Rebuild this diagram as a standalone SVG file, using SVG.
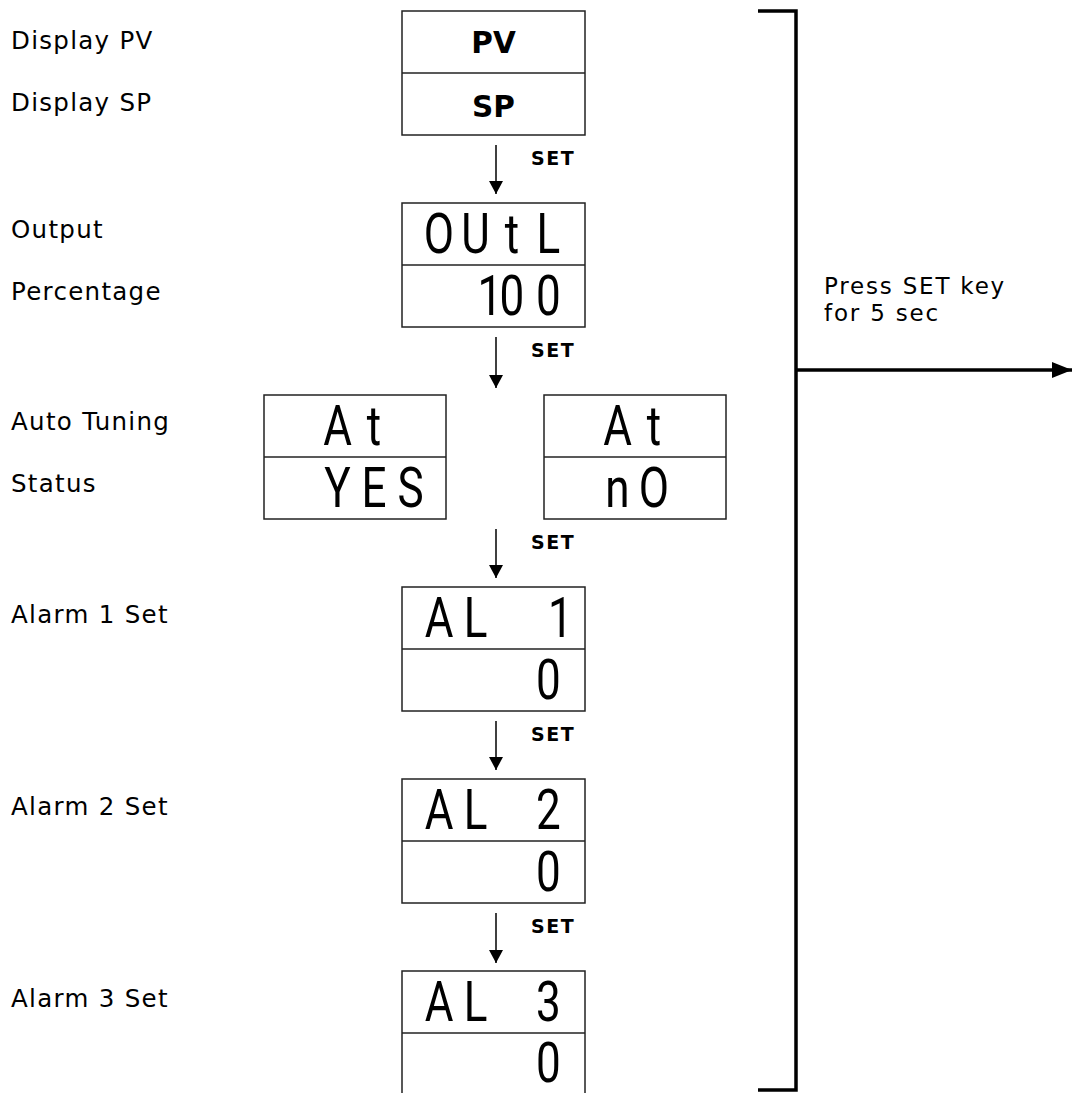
<svg xmlns="http://www.w3.org/2000/svg" width="1072" height="1093" viewBox="0 0 1072 1093">
<defs>
<style>
.lbl{font-family:"DejaVu Sans",Verdana,sans-serif;font-size:24.5px;letter-spacing:1.3px;fill:#000}
.note{font-family:"DejaVu Sans",Verdana,sans-serif;font-size:23px;letter-spacing:1.8px;fill:#000}
.set{font-family:"DejaVu Sans",Verdana,sans-serif;font-size:19px;font-weight:bold;letter-spacing:1.5px;fill:#000}
.big{font-family:"DejaVu Sans",Verdana,sans-serif;font-size:29.5px;font-weight:bold;fill:#000;text-anchor:middle}
.seg{font-family:Roboto,"DejaVu Sans",sans-serif;font-weight:400;font-size:55px;fill:#000;text-anchor:middle}
.box{fill:none;stroke:#222;stroke-width:1.5}
.div{stroke:#222;stroke-width:1.5}
.arr{stroke:#000;stroke-width:1.5;fill:none;marker-end:url(#ah)}
</style>
<marker id="ah" markerUnits="userSpaceOnUse" markerWidth="13" markerHeight="14" refX="13" refY="7" orient="auto">
<path d="M0,0 L13,7 L0,14 z" fill="#000"/>
</marker>
<marker id="bh" markerUnits="userSpaceOnUse" markerWidth="20" markerHeight="16" refX="20" refY="8" orient="auto">
<path d="M0,0 L20,8 L0,16 z" fill="#000"/>
</marker>
</defs>
<rect width="1072" height="1093" fill="#fff"/>

<g id="labels">
<text class="lbl" x="11" y="49">Display PV</text>
<text class="lbl" x="11" y="111">Display SP</text>
<text class="lbl" x="11" y="238">Output</text>
<text class="lbl" x="11" y="300">Percentage</text>
<text class="lbl" x="11" y="430">Auto Tuning</text>
<text class="lbl" x="11" y="492">Status</text>
<text class="lbl" x="11" y="623">Alarm 1 Set</text>
<text class="lbl" x="11" y="815">Alarm 2 Set</text>
<text class="lbl" x="11" y="1007">Alarm 3 Set</text>
</g>

<g id="node-pvsp">
<rect class="box" x="402" y="11" width="183" height="124"/>
<line class="div" x1="402" y1="73" x2="585" y2="73"/>
<text class="big" x="493.5" y="53">PV</text>
<text class="big" x="493.5" y="117">SP</text>
</g>

<g id="node-outl">
<rect class="box" x="402" y="203" width="183" height="124"/>
<line class="div" x1="402" y1="265" x2="585" y2="265"/>
<text class="seg" transform="translate(402 253) scale(0.8 1)" x="46.25 91.9 137.5 183.1">OUtL</text>
<text class="seg" transform="translate(402 315) scale(0.8 1)" x="110 137.5 183.1">100</text>
</g>

<g id="node-at-yes">
<rect class="box" x="264" y="395" width="182" height="124"/>
<line class="div" x1="264" y1="457" x2="446" y2="457"/>
<text class="seg" transform="translate(264 445) scale(0.8 1)" x="91.9 137.5">At</text>
<text class="seg" transform="translate(264 507) scale(0.8 1)" x="91.9 137.5 183.1">YES</text>
</g>

<g id="node-at-no">
<rect class="box" x="544" y="395" width="182" height="124"/>
<line class="div" x1="544" y1="457" x2="726" y2="457"/>
<text class="seg" transform="translate(544 445) scale(0.8 1)" x="91.9 137.5">At</text>
<text class="seg" transform="translate(544 507) scale(0.8 1)" x="91.9 137.5">nO</text>
</g>

<g id="node-al1">
<rect class="box" x="402" y="587" width="183" height="124"/>
<line class="div" x1="402" y1="649" x2="585" y2="649"/>
<text class="seg" transform="translate(402 637) scale(0.8 1)" x="46.25 91.9 137.5 198.1">AL 1</text>
<text class="seg" transform="translate(402 699) scale(0.8 1)" x="183.1">0</text>
</g>

<g id="node-al2">
<rect class="box" x="402" y="779" width="183" height="124"/>
<line class="div" x1="402" y1="841" x2="585" y2="841"/>
<text class="seg" transform="translate(402 829) scale(0.8 1)" x="46.25 91.9 137.5 183.1">AL 2</text>
<text class="seg" transform="translate(402 891) scale(0.8 1)" x="183.1">0</text>
</g>

<g id="node-al3">
<rect class="box" x="402" y="971" width="183" height="130"/>
<line class="div" x1="402" y1="1033" x2="585" y2="1033"/>
<text class="seg" transform="translate(402 1021) scale(0.8 1)" x="46.25 91.9 137.5 183.1">AL 3</text>
<text class="seg" transform="translate(402 1082) scale(0.8 1)" x="183.1">0</text>
</g>

<g id="connectors">
<line class="arr" x1="496" y1="145" x2="496" y2="194"/>
<line class="arr" x1="496" y1="337" x2="496" y2="388"/>
<line class="arr" x1="496" y1="529" x2="496" y2="578"/>
<line class="arr" x1="496" y1="721" x2="496" y2="770"/>
<line class="arr" x1="496" y1="913" x2="496" y2="963"/>
<text class="set" x="531" y="165">SET</text>
<text class="set" x="531" y="357">SET</text>
<text class="set" x="531" y="549">SET</text>
<text class="set" x="531" y="741">SET</text>
<text class="set" x="531" y="933">SET</text>
<polyline points="758,11 796,11 796,1090 758,1090" fill="none" stroke="#000" stroke-width="3.5"/>
<line x1="796" y1="370" x2="1072" y2="370" stroke="#000" stroke-width="3.5" marker-end="url(#bh)"/>
<text class="note" x="824" y="294">Press SET key</text>
<text class="note" x="824" y="321">for 5 sec</text>
</g>
</svg>
